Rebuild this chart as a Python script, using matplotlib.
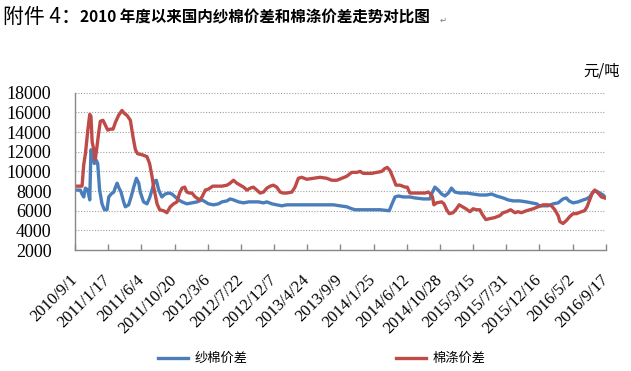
import numpy as np
import pandas as pd
import matplotlib
matplotlib.use("Agg")
import matplotlib.pyplot as plt
from matplotlib.transforms import ScaledTranslation

# x tick labels (date axis, every 138 days)
tick_labels = ["2010/9/1", "2011/1/17", "2011/6/4", "2011/10/20", "2012/3/6",
               "2012/7/22", "2012/12/7", "2013/4/24", "2013/9/9", "2014/1/25",
               "2014/6/12", "2014/10/28", "2015/3/15", "2015/7/31", "2015/12/16",
               "2016/5/2", "2016/9/17"]
start_date = "2010-09-01"

# 纱棉价差 : days after 2010/9/1, value (元/吨)
blue_day = [0, 22, 29, 36, 43, 53, 61, 66, 72, 80, 89, 94, 102, 112, 122, 133, 140,
            150, 161, 168, 175, 181, 191, 202, 209, 223, 233, 244, 255, 265, 271, 285,
            299, 310, 320, 330, 338, 348, 361, 375, 389, 403, 417, 431, 445, 465, 486,
            507, 528, 542, 555, 576, 597, 611, 632, 645, 659, 680, 701, 722, 742, 763,
            784, 798, 819, 839, 860, 881, 936, 1019, 1075, 1102, 1130, 1151, 1165, 1213,
            1269, 1307, 1317, 1331, 1345, 1366, 1393, 1414, 1449, 1476, 1487, 1497, 1511,
            1525, 1539, 1553, 1566, 1580, 1601, 1629, 1656, 1684, 1712, 1733, 1753, 1781,
            1802, 1823, 1850, 1878, 1899, 1920, 1933, 1954, 1968, 1989, 2010, 2030, 2044,
            2055, 2072, 2093, 2114, 2127, 2141, 2155, 2169, 2183, 2197, 2204]
blue_val = [8100, 8100, 7700, 7400, 8300, 8100, 7100, 12200, 11800, 10800, 11100, 10800,
            8100, 6700, 6100, 6100, 7400, 7700, 7900, 8400, 8800, 8400, 7900, 6900, 6400,
            6600, 7400, 8400, 9300, 8800, 7900, 6900, 6700, 7300, 8100, 9000, 9100, 8100,
            7400, 7700, 7800, 7700, 7400, 7100, 6900, 6700, 6800, 6900, 7100, 6900, 6700,
            6600, 6700, 6900, 7000, 7200, 7100, 6900, 6800, 6900, 6900, 6900, 6800, 6900,
            6700, 6600, 6500, 6600, 6600, 6600, 6600, 6500, 6400, 6200, 6100, 6100, 6100,
            6000, 6600, 7400, 7500, 7400, 7400, 7300, 7200, 7200, 7900, 8400, 8100, 7700,
            7500, 7800, 8300, 7900, 7800, 7800, 7700, 7600, 7600, 7700, 7500, 7300, 7100,
            7000, 7000, 6900, 6800, 6700, 6500, 6500, 6500, 6700, 6800, 7200, 7300, 7000,
            6800, 6900, 7100, 7200, 7400, 7900, 8000, 7800, 7600, 7400]

# 棉涤价差
red_day = [0, 29, 36, 43, 53, 61, 66, 71, 78, 84, 91, 98, 105, 116, 126, 136, 147, 158,
           168, 181, 195, 205, 216, 230, 241, 251, 260, 278, 299, 310, 320, 327, 341, 352,
           368, 382, 396, 410, 424, 435, 445, 456, 465, 476, 486, 500, 518, 528, 542, 555,
           573, 590, 611, 632, 645, 659, 673, 687, 701, 715, 729, 742, 756, 770, 784, 798,
           812, 825, 839, 853, 864, 881, 902, 915, 929, 943, 964, 992, 1019, 1047, 1068,
           1089, 1109, 1130, 1151, 1172, 1186, 1199, 1213, 1234, 1255, 1276, 1289, 1299,
           1310, 1324, 1335, 1352, 1373, 1382, 1393, 1414, 1435, 1456, 1469, 1479, 1487,
           1493, 1504, 1525, 1535, 1546, 1557, 1573, 1587, 1598, 1612, 1626, 1643, 1656,
           1670, 1684, 1695, 1709, 1726, 1746, 1767, 1781, 1795, 1812, 1830, 1843, 1857,
           1878, 1906, 1927, 1947, 1968, 1982, 1996, 2010, 2017, 2030, 2044, 2058, 2072,
           2086, 2107, 2120, 2130, 2141, 2152, 2162, 2176, 2190, 2204]
red_val = [8500, 8500, 10700, 11800, 14200, 15800, 15600, 13000, 12200, 11200, 12500,
           13900, 15100, 15200, 14700, 14200, 14300, 14300, 15000, 15700, 16200, 15900,
           15700, 15200, 13500, 12200, 11800, 11700, 11500, 10800, 9500, 8400, 6700, 6100,
           6000, 5800, 6400, 6700, 6900, 7800, 8300, 8400, 7900, 7800, 7800, 7400, 7100,
           7400, 8100, 8200, 8500, 8500, 8500, 8600, 8800, 9100, 8800, 8600, 8400, 8100,
           8300, 8400, 8100, 7800, 7900, 8300, 8500, 8600, 8400, 7900, 7800, 7800, 7900,
           8400, 9300, 9400, 9200, 9300, 9400, 9300, 9100, 9100, 9300, 9500, 9900, 9900,
           10000, 9800, 9800, 9800, 9900, 10000, 10300, 10400, 10100, 9300, 8600, 8600,
           8400, 8400, 7800, 7800, 7800, 7800, 7900, 7700, 7400, 6600, 6800, 6900, 6700,
           6100, 5700, 5800, 6200, 6600, 6400, 6200, 5900, 6200, 6100, 6100, 5600, 5100,
           5200, 5300, 5500, 5800, 5900, 6100, 5800, 5900, 5800, 6000, 6200, 6400, 6600,
           6600, 6500, 6100, 5500, 4900, 4700, 5000, 5400, 5700, 5700, 5900, 6000, 6400,
           7100, 7800, 8100, 7800, 7400, 7300]

yticks = [2000, 4000, 6000, 8000, 10000, 12000, 14000, 16000, 18000]

blue_c = "#4a7ebb"
red_c = "#be4b48"
cjk = ["Noto Sans CJK SC", "DejaVu Sans"]

plt.rcParams["font.family"] = ["Liberation Serif", "DejaVu Serif"]

t0 = pd.Timestamp(start_date)
bx = t0 + pd.to_timedelta(blue_day, unit="D")
rx = t0 + pd.to_timedelta(red_day, unit="D")
tick_dates = pd.to_datetime(tick_labels, format="%Y/%m/%d")

fig = plt.figure(figsize=(6.31, 3.71), dpi=100)
ax = fig.add_axes([0.119, 0.326, 0.841, 0.424])

ax.plot(bx, blue_val, color=blue_c, lw=2.4, label="纱棉价差", solid_joinstyle="round")
ax.plot(rx, red_val, color=red_c, lw=2.4, label="棉涤价差", solid_joinstyle="round")

ax.set_xlim(tick_dates[0], tick_dates[-1])
ax.set_ylim(2000, 18000)
ax.set_yticks(yticks)
ax.set_yticklabels([str(v) for v in yticks], fontsize=13)
ax.set_xticks(tick_dates)
ax.set_xticklabels(tick_labels, fontsize=12, rotation=45,
                   ha="right", va="center", rotation_mode="anchor")
shift = ScaledTranslation(4 / 100, 0, fig.dpi_scale_trans)
for lab in ax.get_xticklabels():
    lab.set_transform(lab.get_transform() + shift)
ax.tick_params(axis="y", length=0, pad=17)
ax.tick_params(axis="x", direction="in", length=4, width=1, color="#888888", pad=20)
ax.grid(axis="y", color="#a0a0a0", lw=0.8, linestyle=(0, (1, 1.5)))
ax.set_axisbelow(True)
for s in ["top", "right"]:
    ax.spines[s].set_visible(False)
for s in ["left", "bottom"]:
    ax.spines[s].set_color("#888888")
    ax.spines[s].set_linewidth(1)

fig.text(0.005, 0.953, "附件 4：", fontfamily=cjk, fontsize=15, weight="light",
         va="center", ha="left")
fig.text(0.127, 0.953, "2010 年度以来国内纱棉价差和棉涤价差走势对比图", fontfamily=cjk,
         fontsize=11.2, weight="bold", va="center", ha="left")
fig.text(0.697, 0.945, "↵", fontfamily=["DejaVu Sans"], fontsize=6, color="#777777",
         va="center", ha="left")
fig.text(0.982, 0.808, "元/吨", fontfamily=cjk, fontsize=11, weight="light",
         va="center", ha="right")

fig.legend(loc="center", bbox_to_anchor=(0.51, 0.033), ncol=2, frameon=False,
           prop={"family": cjk, "size": 9.5}, handlelength=2.3, handletextpad=0.5,
           columnspacing=11.2)

fig.savefig("out.png", dpi=100)
